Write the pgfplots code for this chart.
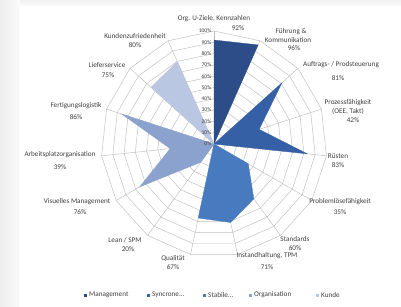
\documentclass[border=0pt]{standalone}
\usepackage{pgfplots}
\pgfplotsset{compat=1.18}
\usepgfplotslibrary{polar}
\usetikzlibrary{backgrounds}
\usepackage{fontspec}
\setmainfont{Carlito}
\definecolor{cMgmt}{RGB}{44,77,135}
\definecolor{cSync}{RGB}{54,96,166}
\definecolor{cStab}{RGB}{72,122,192}
\definecolor{cOrg}{RGB}{140,162,206}
\definecolor{cKunde}{RGB}{186,199,226}
\definecolor{cGrid}{RGB}{190,190,190}
\definecolor{cText}{RGB}{64,64,64}
\begin{document}
\begin{tikzpicture}
\begin{polaraxis}[
  hide axis, scale only axis, width=226pt, height=226pt,
  xmin=0, xmax=360, ymin=0, ymax=100,
  clip=false,
]
\coordinate (C) at (axis cs:0,0);
% polygon web grid
\pgfplotsinvokeforeach{10,20,30,40,50,60,70,80,90,100}{
  \addplot[cGrid, line width=0.45pt, mark=none] coordinates {(90,#1)(66,#1)(42,#1)(18,#1)(354,#1)(330,#1)(306,#1)(282,#1)(258,#1)(234,#1)(210,#1)(186,#1)(162,#1)(138,#1)(114,#1)(90,#1)};
}
\pgfplotsinvokeforeach{90,66,42,18,354,330,306,282,258,234,210,186,162,138,114}{
  \addplot[cGrid, line width=0.45pt, mark=none] coordinates {(#1,0)(#1,100)};
}
% Management
\addplot[fill=cMgmt, draw=cMgmt, line width=0.3pt, mark=none] coordinates {(0,0)(90,92)(66,96)(0,0)};
% Syncrone
\addplot[fill=cSync, draw=cSync, line width=0.3pt, mark=none] coordinates {(0,0)(42,81)(18,42)(354,83)(0,0)};
% Stabile
\addplot[fill=cStab, draw=cStab, line width=0.3pt, mark=none] coordinates {(0,0)(330,35)(306,60)(282,71)(258,67)(0,0)};
% Organisation
\addplot[fill=cOrg, draw=cOrg, line width=0.3pt, mark=none] coordinates {(0,0)(234,20)(210,76)(186,39)(162,86)(0,0)};
% Kunde
\addplot[fill=cKunde, draw=cKunde, line width=0.3pt, mark=none] coordinates {(0,0)(138,75)(114,80)(0,0)};
% value labels
\pgfplotsinvokeforeach{0,10,20,30,40,50,60,70,80,90,100}{
  \node[anchor=east, inner sep=0pt, xshift=-2.5pt, font=\fontsize{5.6}{6}\selectfont, text=cText] at (axis cs:90,#1) {#1\%};
}
\end{polaraxis}
\begin{scope}[shift={(C)}, xshift=-214pt, yshift=144pt, x=1pt, y=-1pt,
  every node/.style={font=\fontsize{7.2}{8}\selectfont, text=cText, inner sep=0pt}]
\node at (214,19) {Org. U-Ziele, Kennzahlen};
\node at (238,28) {92\%};
\node at (291,32) {Führung \&};
\node at (288,40) {Kommunikation};
\node at (294,48) {96\%};
\node at (341,65) {Auftrags- / Prodsteuerung};
\node at (338,78) {81\%};
\node at (348,103) {Prozessfähigkeit};
\node at (348,111) {(OEE, Takt)};
\node at (353,120) {42\%};
\node at (338,156) {Rüsten};
\node at (338,165) {83\%};
\node at (340,202) {Problemlösefähigkeit};
\node at (340,212) {35\%};
\node at (295,239) {Standards};
\node at (295,248) {60\%};
\node at (267,256) {Instandhaltung, TPM};
\node at (267,267) {71\%};
\node at (173,258) {Qualität};
\node at (173,267) {67\%};
\node at (125,240) {Lean / SPM};
\node at (128,249) {20\%};
\node at (77,202) {Visuelles Management};
\node at (80,212) {76\%};
\node at (60,155) {Arbeitsplatzorganisation};
\node at (60,167) {39\%};
\node at (76,106) {Fertigungslogistik};
\node at (76,117) {86\%};
\node at (107,65) {Lieferservice};
\node at (108,75) {75\%};
\node at (135,36) {Kundenzufriedenheit};
\node at (135,45) {80\%};
% legend
\fill[cMgmt] (84,293.5) rectangle (87,296.5);
\node[anchor=west] at (89,295) {Management};
\fill[cSync] (147,293.5) rectangle (150,296.5);
\node[anchor=west] at (152,295) {Syncrone...};
\fill[cStab] (203,293.5) rectangle (206,296.5);
\node[anchor=west] at (208,295) {Stabile...};
\fill[cOrg] (249,293.5) rectangle (252,296.5);
\node[anchor=west] at (254,295) {Organisation};
\fill[cKunde] (316,293.5) rectangle (319,296.5);
\node[anchor=west] at (321,295) {Kunde};
\end{scope}
\begin{scope}[on background layer, shift={(C)}, xshift=-214pt, yshift=144pt, x=1pt, y=-1pt]
\fill[white] (0,0) rectangle (401,306);
\shade[left color=gray!14, right color=gray!3] (0,0) rectangle (20,306);
\shade[top color=gray!10, bottom color=gray!3] (20,0) rectangle (401,6);
\end{scope}
\pgfresetboundingbox
\path[shift={(C)}, xshift=-214pt, yshift=144pt, x=1pt, y=-1pt] (0,0) rectangle (401,306);
\end{tikzpicture}
\end{document}
